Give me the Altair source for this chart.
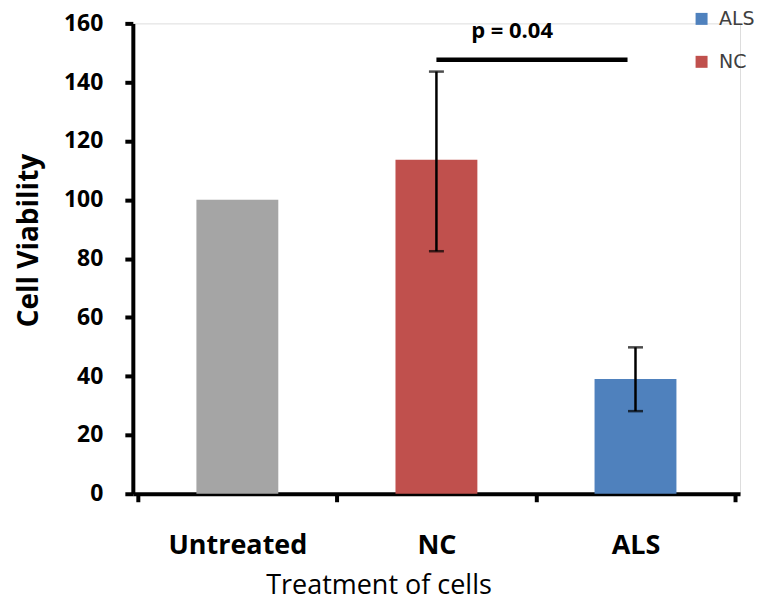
import json
import altair as alt
import pandas as pd

# ---- data ----
categories = ["Untreated", "NC", "ALS"]
viability = [100.0, 113.6, 39.0]
err_low = [None, 82.5, 28.1]
err_high = [None, 143.6, 49.8]
bar_colors = ["#A5A5A5", "#C0504D", "#4F81BD"]
legend_items = ["ALS", "NC"]
y_ticks = [0, 20, 40, 60, 80, 100, 120, 140, 160]

p_label = "p = 0.04"
p_line_x = [2.0, 2.96]      # from NC to (almost) ALS, in category-position units
p_line_y = 147.6
p_text_x = 2.38
p_text_y = 157.3

# ---- tables ----
pos = [i + 1 for i in range(len(categories))]
bars = pd.DataFrame({"category": categories, "pos": pos, "value": viability})
errs = pd.DataFrame({"category": categories, "pos": pos, "lo": err_low, "hi": err_high}).dropna()
sig = pd.DataFrame({"x": [p_line_x[0]], "x2": [p_line_x[1]], "y": [p_line_y],
                    "tx": [p_text_x], "ty": [p_text_y], "label": [p_label]})

xscale = alt.Scale(domain=[0.5, len(categories) + 0.5], nice=False, zero=False)
yscale = alt.Scale(domain=[0, 160], nice=False)

FONT = "Open Sans"

y_axis = alt.Axis(
    values=y_ticks, title="Cell Viability", grid=False,
    domainColor="black", domainWidth=4, tickColor="black", tickWidth=4, tickSize=8,
    labelFont=FONT, labelFontSize=23, labelFontWeight="bold", labelColor="black",
    labelPadding=22,
    titleFont=FONT, titleFontSize=28, titleFontWeight="bold", titleColor="black",
    titleX=-103, titleY=217, titleAlign="center", titleBaseline="middle", titleAngle=-90,
)

label_expr = json.dumps(categories) + "[datum.value - 1]"
x_label_axis = alt.Axis(
    orient="bottom", values=pos, labelExpr=label_expr, grid=False,
    domain=False, ticks=False,
    labelFont=FONT, labelFontSize=27, labelFontWeight="bold", labelColor="black",
    labelPadding=52, labelBaseline="middle",
    title="Treatment of cells", titleFont=FONT, titleFontSize=27, titleFontWeight="normal",
    titleColor="black", titleX=246, titleY=92, titleAlign="center", titleBaseline="middle",
)
x_tick_axis = alt.Axis(
    orient="bottom", values=[p + 0.5 for p in [0] + pos], labels=False, title=None, grid=False,
    domainColor="black", domainWidth=4, tickColor="black", tickWidth=4, tickSize=8,
)

color = alt.Color(
    "category:N",
    scale=alt.Scale(domain=categories, range=bar_colors),
    legend=alt.Legend(
        values=legend_items, title=None, orient="none", legendX=560, legendY=-14,
        symbolType="square", symbolSize=144, symbolStrokeWidth=0,
        labelFont="DejaVu Sans", labelFontSize=19, labelColor="#404040",
        labelOffset=8, rowPadding=23, padding=0,
    ),
)

bar_layer = alt.Chart(bars).mark_bar(size=82).encode(
    x=alt.X("pos:Q", scale=xscale, axis=x_label_axis),
    y=alt.Y("value:Q", scale=yscale, axis=y_axis),
    color=color,
)

rule_layer = alt.Chart(errs).mark_rule(color="black", strokeWidth=2.5).encode(
    x=alt.X("pos:Q", scale=xscale, axis=x_tick_axis),
    y=alt.Y("lo:Q", scale=yscale, axis=y_axis),
    y2="hi:Q",
)

cap_lo = alt.Chart(errs).mark_tick(color="black", orient="horizontal", size=15, thickness=2.5).encode(
    x=alt.X("pos:Q", scale=xscale, axis=None),
    y=alt.Y("lo:Q", scale=yscale, axis=y_axis),
)
cap_hi = alt.Chart(errs).mark_tick(color="black", orient="horizontal", size=15, thickness=2.5).encode(
    x=alt.X("pos:Q", scale=xscale, axis=None),
    y=alt.Y("hi:Q", scale=yscale, axis=y_axis),
)

sig_line = alt.Chart(sig).mark_rule(color="black", strokeWidth=4.5).encode(
    x=alt.X("x:Q", scale=xscale, axis=None),
    x2="x2:Q",
    y=alt.Y("y:Q", scale=yscale, axis=y_axis),
)
sig_text = alt.Chart(sig).mark_text(font=FONT, fontSize=22, fontWeight="bold", color="black").encode(
    x=alt.X("tx:Q", scale=xscale, axis=None),
    y=alt.Y("ty:Q", scale=yscale, axis=y_axis),
    text="label:N",
)

chart = (
    alt.layer(bar_layer, rule_layer, cap_lo, cap_hi, sig_line, sig_text)
    .resolve_scale(x="shared", y="shared")
    .resolve_axis(x="independent")
    .properties(
        width=608, height=471,
        autosize=alt.AutoSizeParams(type="none"),
        padding={"left": 125, "top": 15, "right": 14, "bottom": 108},
    )
    .configure_view(stroke=None)
    .configure(background="white")
)

chart.save("out.html", embed_options={"renderer": "svg", "actions": False})
